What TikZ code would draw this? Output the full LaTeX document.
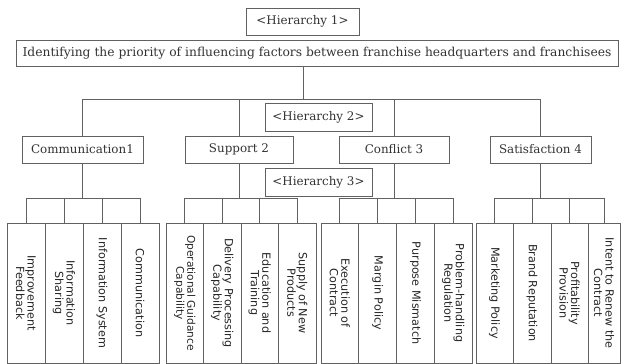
\documentclass[tikz,border=0pt]{standalone}
\usepackage{fontspec}
\setmainfont{DejaVu Serif}
\newfontfamily\leaffam{DejaVu Sans}
\begin{document}
\begin{tikzpicture}[x=1pt,y=-1pt,
  conn/.style={draw=black!62, line width=0.9pt},
  box/.style={draw=black!62, line width=0.9pt, inner sep=0pt, text=black!80,
    font=\fontsize{11.9}{13}\selectfont},
  leaf/.style={draw=black!62, line width=0.9pt, rotate=-90, minimum width=140pt,
    minimum height=#1, inner sep=1pt, align=center, text=black!85,
    font=\leaffam\fontsize{11.2}{11.5}\selectfont}]
\useasboundingbox (0,0) rectangle (621,364);
% top level
\node[box, minimum width=113pt, minimum height=27pt] (h1) at (302.5,21.5) {<Hierarchy 1>};
\node[box, minimum width=602pt, minimum height=26pt, font=\fontsize{12.3}{13}\selectfont] (main) at (317,53)
  {Identifying the priority of influencing factors between franchise headquarters and franchisees};
\node[box, minimum width=107pt, minimum height=28pt] (h2) at (318.5,117) {<Hierarchy 2>};
\node[box, minimum width=107pt, minimum height=28pt] (h3) at (318.5,182) {<Hierarchy 3>};
% second level
\node[box, minimum width=121pt, minimum height=27pt] (comm) at (82.5,149.5) {Communication1};
\node[box, minimum width=108pt, minimum height=27pt] (sup) at (239,149.5) {Support 2};
\node[box, minimum width=110pt, minimum height=27pt] (con) at (394,149.5) {Conflict 3};
\node[box, minimum width=101pt, minimum height=27pt] (sat) at (540.5,149.5) {Satisfaction 4};
% leaves
\node[leaf=38pt] (c1) at (26,293) {Improvement\\Feedback};
\node[leaf=38pt] (c2) at (64,293) {Information\\Sharing};
\node[leaf=38pt] (c3) at (102,293) {Information System};
\node[leaf=38pt] (c4) at (140,293) {Communication};
\node[leaf=37.5pt, font=\leaffam\fontsize{10.6}{11}\selectfont] (s1) at (184.75,293) {Operational Guidance\\Capability};
\node[leaf=37.5pt] (s2) at (222.25,293) {Delivery Processing\\Capability};
\node[leaf=37.5pt] (s3) at (259.75,293) {Education and\\Training};
\node[leaf=37.5pt] (s4) at (297.25,293) {Supply of New\\Products};
\node[leaf=37.75pt] (k1) at (339.875,293) {Execution of\\Contract};
\node[leaf=37.75pt] (k2) at (377.625,293) {Margin Policy};
\node[leaf=37.75pt] (k3) at (415.375,293) {Purpose Mismatch};
\node[leaf=37.75pt] (k4) at (453.125,293) {Problem-handling\\Regulation};
\node[leaf=37pt] (t1) at (494.5,293) {Marketing Policy};
\node[leaf=38pt] (t2) at (532,293) {Brand Reputation};
\node[leaf=37pt] (t3) at (569.5,293) {Profitability\\Provision};
\node[leaf=32pt] (t4) at (604,293) {Intent to Renew the\\Contract};
% buses
\coordinate (tb) at (303,99);
\coordinate (lb) at (0,198);
\draw[conn] (tb |- main.south) -- (tb);
\draw[conn] (comm.north) -- (comm.north |- tb) -- (sat.north |- tb) -- (sat.north);
\draw[conn] (sup.north) -- (sup.north |- tb);
\draw[conn] (con.north) -- (con.north |- tb);
% lower buses
\draw[conn] (comm.south) -- (comm.south |- lb);
\draw[conn] (c1.west) -- (c1.west |- lb) -- (c4.west |- lb) -- (c4.west);
\draw[conn] (c2.west) -- (c2.west |- lb);
\draw[conn] (c3.west) -- (c3.west |- lb);
\draw[conn] (sup.south) -- (sup.south |- lb);
\draw[conn] (s1.west) -- (s1.west |- lb) -- (s4.west |- lb) -- (s4.west);
\draw[conn] (s2.west) -- (s2.west |- lb);
\draw[conn] (s3.west) -- (s3.west |- lb);
\draw[conn] (con.south) -- (con.south |- lb);
\draw[conn] (k1.west) -- (k1.west |- lb) -- (k4.west |- lb) -- (k4.west);
\draw[conn] (k2.west) -- (k2.west |- lb);
\draw[conn] (k3.west) -- (k3.west |- lb);
\draw[conn] (sat.south) -- (sat.south |- lb);
\draw[conn] (t1.west) -- (t1.west |- lb) -- (t4.west |- lb) -- (t4.west);
\draw[conn] (t2.west) -- (t2.west |- lb);
\draw[conn] (t3.west) -- (t3.west |- lb);
\end{tikzpicture}
\end{document}
